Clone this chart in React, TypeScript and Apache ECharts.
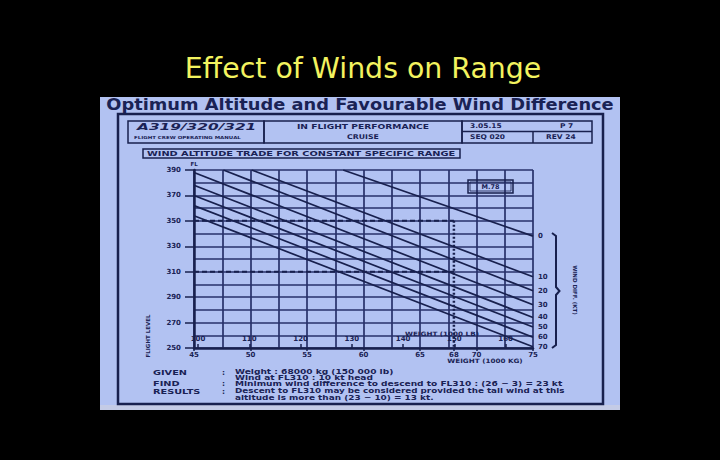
import React, { useEffect, useRef } from 'react';
import * as echarts from 'echarts';

// ---- data ----
const windDiffs = [0, 10, 20, 30, 40, 50, 60, 70];
const startWeights = [58.2, 50.1, 47.6, 45, 45, 45, 45, 45];
const startLevels = [390, 390, 390, 388, 378, 370, 362, 354];
const endWeights = [75, 75, 75, 75, 75, 75, 75, 75];
const endLevels = [338, 306, 295, 284, 274, 266.5, 258.5, 251];
const kgTicks = [45, 50, 55, 60, 65, 68, 70, 75];
const lbTicks = [100, 110, 120, 130, 140, 150, 160];
const flTicks = [250, 270, 290, 310, 330, 350, 370, 390];
const exampleWeight = 68;
const exampleLevels = [350, 310];
const KG_PER_LB = 0.45359237;

const NAVY = '#18204e';
const GRID = '#27316a';
const TEXT = '#1a2255';
const PANEL = '#b2c2f2';
const YELLOW = '#f3f35f';
const FONT = 'DejaVu Sans';

function txt(x: number, y: number, text: string, size: number, opts: any = {}) {
  return {
    type: 'text',
    x,
    y,
    z: 50,
    rotation: opts.rotation || 0,
    scaleX: opts.scaleX || 1,
    style: {
      text,
      fill: opts.fill || TEXT,
      fontSize: size,
      fontWeight: opts.weight || 'bold',
      fontStyle: opts.style || 'normal',
      fontFamily: opts.family || FONT,
      align: opts.align || 'left',
      verticalAlign: 'middle',
    },
  };
}

function box(x: number, y: number, w: number, h: number, lw = 1.5, z = 40) {
  return {
    type: 'rect',
    z,
    shape: { x, y, width: w, height: h },
    style: { fill: 'none', stroke: NAVY, lineWidth: lw },
  };
}

function seg(x1: number, y1: number, x2: number, y2: number, lw = 1.5) {
  return {
    type: 'line',
    z: 40,
    shape: { x1, y1, x2, y2 },
    style: { stroke: NAVY, lineWidth: lw },
  };
}

export default function App() {
  const ref = useRef<HTMLDivElement>(null);

  useEffect(() => {
    document.body.style.margin = '0';
    const chart = echarts.init(ref.current!, null, { renderer: 'svg' });

    const labelStyle = { color: TEXT, fontSize: 7, fontWeight: 'bold', fontFamily: FONT };

    const windSeries = windDiffs.map((w, i) => ({
      type: 'line',
      name: String(w),
      data: [
        [startWeights[i], startLevels[i]],
        [endWeights[i], endLevels[i]],
      ],
      symbol: 'none',
      silent: true,
      z: 5,
      lineStyle: { color: NAVY, width: 1.7 },
      endLabel: { show: true, formatter: '{a}', distance: 5, ...labelStyle },
    }));

    const exampleSeries = [
      ...exampleLevels.map((lv) => ({
        type: 'line',
        name: 'FL' + lv,
        data: [
          [kgTicks[0], lv],
          [exampleWeight, lv],
        ],
        symbol: 'none',
        silent: true,
        z: 4,
        lineStyle: { color: NAVY, width: 2, type: [5, 3] },
      })),
      {
        type: 'line',
        name: 'weight',
        data: [
          [exampleWeight, exampleLevels[0]],
          [exampleWeight, flTicks[0]],
        ],
        symbol: 'none',
        silent: true,
        z: 4,
        lineStyle: { color: NAVY, width: 2.5, type: [2, 2] },
      },
    ];

    const graphic: any[] = [
      // slide title
      txt(363, 68, 'Effect of Winds on Range', 28.4, { fill: YELLOW, weight: 'normal', align: 'center' }),
      // scanned page
      {
        type: 'rect',
        z: -10,
        shape: { x: 100, y: 97, width: 520, height: 311 },
        style: { fill: PANEL },
      },
      {
        type: 'rect',
        z: -9,
        shape: { x: 100, y: 405, width: 520, height: 5 },
        style: { fill: '#c4cbe6' },
      },
      txt(360, 104, 'Optimum Altitude and Favourable Wind Difference', 15.5, { align: 'center', scaleX: 1.15 }),
      box(118, 114, 485, 290, 2.5),
      // header boxes
      box(128, 121, 136, 22),
      box(264, 121, 198, 22),
      box(462, 121, 130, 22),
      seg(462, 131.5, 592, 131.5),
      seg(533, 131.5, 533, 143),
      txt(137, 127, 'A319/320/321', 9.5, { style: 'italic', scaleX: 1.62 }),
      txt(134, 137, 'FLIGHT CREW OPERATING MANUAL', 4.2, { scaleX: 1.3 }),
      txt(363, 126, 'IN FLIGHT PERFORMANCE', 7.5, { align: 'center', scaleX: 1.22 }),
      txt(363, 137, 'CRUISE', 6.5, { align: 'center', scaleX: 1.2 }),
      txt(470, 126, '3.05.15', 6.5, { scaleX: 1.15 }),
      txt(560, 126, 'P 7', 6.5, { scaleX: 1.15 }),
      txt(470, 137.5, 'SEQ 020', 6.5, { scaleX: 1.15 }),
      txt(546, 137.5, 'REV 24', 6.5, { scaleX: 1.15 }),
      // chart title box
      box(143, 149, 317, 9, 1.5),
      txt(147, 153.8, 'WIND ALTITUDE TRADE FOR CONSTANT SPECIFIC RANGE', 7.2, { scaleX: 1.36 }),
      // axis captions
      txt(194, 163.5, 'FL', 5.5, { align: 'center' }),
      txt(148, 336, 'FLIGHT LEVEL', 5.5, { align: 'center', rotation: Math.PI / 2 }),
      txt(442, 334, 'WEIGHT (1000 LB)', 6, { align: 'center', scaleX: 1.2 }),
      txt(485, 361, 'WEIGHT (1000 KG)', 6, { align: 'center', scaleX: 1.2 }),
      // M.78 tag
      box(468, 180, 45, 13, 1.5),
      box(470, 182, 41, 9, 0.8),
      txt(490.5, 186.5, 'M.78', 6.5, { align: 'center' }),
      // wind difference bracket
      {
        type: 'polyline',
        z: 40,
        shape: {
          points: [
            [552, 233],
            [556, 236],
            [556, 287],
            [559.5, 291],
            [556, 295],
            [556, 345],
            [552, 348],
          ],
        },
        style: { stroke: NAVY, lineWidth: 2, fill: 'none' },
      },
      txt(575, 290, 'WIND DIFF. (KT)', 5.5, { align: 'center', rotation: -Math.PI / 2 }),
      // example text
      txt(153, 372, 'GIVEN', 7.5, { scaleX: 1.3 }),
      txt(153, 383, 'FIND', 7.5, { scaleX: 1.3 }),
      txt(153, 391, 'RESULTS', 7.5, { scaleX: 1.3 }),
      txt(222, 372, ':', 7.5),
      txt(222, 383.5, ':', 7.5),
      txt(222, 391, ':', 7.5),
      txt(235, 371.5, 'Weight : 68000 kg (150 000 lb)', 7.2, { scaleX: 1.26 }),
      txt(235, 377.5, 'Wind at FL310 : 10 kt head', 7.2, { scaleX: 1.26 }),
      txt(235, 383.5, 'Minimum wind difference to descend to FL310 : (26 − 3) = 23 kt', 7.2, { scaleX: 1.26 }),
      txt(235, 391, 'Descent to FL310 may be considered provided the tail wind at this', 7.2, { scaleX: 1.22 }),
      txt(235, 397.5, 'altitude is more than (23 − 10) = 13 kt.', 7.2, { scaleX: 1.24 }),
    ];

    chart.setOption({
      animation: false,
      backgroundColor: '#000',
      grid: { left: 194, top: 170, width: 339, height: 178, containLabel: false, outerBoundsMode: 'none' },
      xAxis: [
        {
          type: 'value',
          position: 'bottom',
          min: 45,
          max: 75,
          interval: 2.5,
          axisLine: { show: true, onZero: false, lineStyle: { color: NAVY, width: 2.5 } },
          axisTick: { show: true, customValues: kgTicks, length: 3, lineStyle: { color: NAVY, width: 1.5 } },
          axisLabel: { customValues: kgTicks, margin: 3, ...labelStyle },
          splitLine: { show: false },
        },
        {
          type: 'value',
          position: 'bottom',
          min: 45 / KG_PER_LB,
          max: 75 / KG_PER_LB,
          axisLine: { show: false, onZero: false },
          axisTick: { show: true, inside: true, customValues: lbTicks, length: 4, lineStyle: { color: NAVY, width: 1.5 } },
          axisLabel: { inside: true, customValues: lbTicks, margin: 6, ...labelStyle },
          splitLine: { show: false },
        },
        {
          // grid lines every 2.5 t
          type: 'value',
          position: 'bottom',
          min: 45,
          max: 75,
          interval: 2.5,
          axisLine: { show: false },
          axisTick: { show: false },
          axisLabel: { show: false },
          splitLine: { show: true, lineStyle: { color: GRID, width: 1.7 } },
        },
      ],
      yAxis: [
        {
          type: 'value',
          min: 250,
          max: 390,
          interval: 10,
          axisLine: { show: true, onZero: false, lineStyle: { color: NAVY, width: 2.5 } },
          axisTick: { show: true, customValues: flTicks, length: 9, lineStyle: { color: NAVY, width: 1.5 } },
          axisLabel: { customValues: flTicks, margin: 13, ...labelStyle },
          splitLine: { show: false },
        },
        {
          // grid lines every 10 FL
          type: 'value',
          position: 'left',
          min: 250,
          max: 390,
          interval: 10,
          axisLine: { show: false },
          axisTick: { show: false },
          axisLabel: { show: false },
          splitLine: { show: true, lineStyle: { color: GRID, width: 1.7 } },
        },
      ],
      series: [...windSeries, ...exampleSeries],
      graphic,
    });

    return () => chart.dispose();
  }, []);

  return <div ref={ref} style={{ width: 720, height: 460 }} />;
}
